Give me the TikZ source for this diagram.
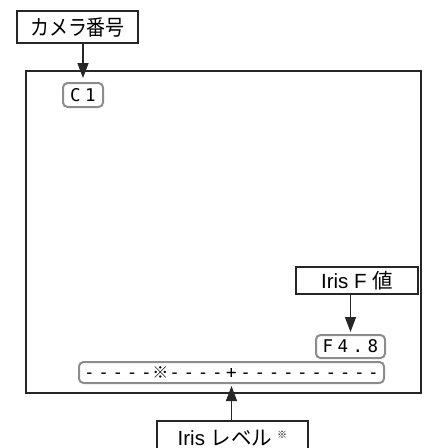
\documentclass[tikz,border=0pt]{standalone}
\usepackage{fontspec}
\usepackage{graphicx}
\setmainfont{Liberation Sans}
\newfontfamily\jp{Noto Sans CJK JP}
\newfontfamily\mono{DejaVu Sans Mono}
\usetikzlibrary{arrows.meta}
\newcommand\mc[1]{\makebox[15pt][c]{#1}}
\newcommand\bc[1]{\makebox[14.2pt][c]{#1}}
\begin{document}
\begin{tikzpicture}[x=1pt,y=-1pt,
  lbl/.style={draw=black!85, line width=1.1pt, inner sep=0pt},
  osd/.style={draw=black!45, line width=2pt, rounded corners=4.5pt, inner sep=0pt},
  scr/.style={draw=black!85, line width=1.1pt},
  arr/.style={draw=black!85, line width=1.4pt, -{Triangle[length=15pt,width=11pt]}},
  lbltext/.style={font=\fontsize{20.5}{20.5}\selectfont},
  osdtext/.style={font=\mono\fontsize{17.5}{17.5}\selectfont}]
\useasboundingbox (0,0) rectangle (427,448);
\clip (0,0) rectangle (427,448);
% screen
\node[scr, minimum width=395pt, minimum height=322pt, inner sep=0pt] (screen) at (223.5,232) {};
% camera number label
\node[lbl, lbltext, minimum width=121pt, minimum height=32pt] (cam) at (77.5,27)
  {\scalebox{0.88}[1]{\jp\fontsize{21.5}{21.5}\selectfont カメラ番号}};
% C1
\node[osd, osdtext, minimum width=40pt, minimum height=24pt] (c1) at (83,95) {\mc{C}\mc{1}};
% Iris F label
\node[lbl, lbltext, minimum width=122pt, minimum height=27pt] (irisf) at (357,280.5) {Iris F {\jp 値}};
% F4.8
\node[osd, osdtext, minimum width=69pt, minimum height=23pt] (f48) at (350.5,346.5) {\mc{F}\mc{4}\mc{.}\mc{8}};
% level bar
\node[osd, osdtext, minimum width=305pt, minimum height=21pt] (bar) at (231.5,372.5)
  {\bc{-}\bc{-}\bc{-}\bc{-}\bc{-}\bc{\jp\fontsize{16}{16}\selectfont ※}\bc{-}\bc{-}\bc{-}\bc{-}\bc{+}\bc{-}\bc{-}\bc{-}\bc{-}\bc{-}\bc{-}\bc{-}\bc{-}\bc{-}\bc{-}};
% Iris level label
\node[lbl, minimum width=151pt, minimum height=44pt] (level) at (232.5,443) {};
\node[lbltext, anchor=base west, inner sep=0pt] (leveltxt) at (177.5,445)
  {Iris {\jp レベル}\hspace{5pt}\raisebox{7pt}{\jp\fontsize{10}{10}\selectfont ※}};
% arrows
\draw[arr] (cam.south -| c1.north) -- ([yshift=4pt]c1.north);
\draw[arr] (irisf.south -| f48.north) -- ([yshift=2pt]f48.north);
\draw[arr] (level.north -| bar.south) -- ([yshift=-2pt]bar.south);
\end{tikzpicture}
\end{document}
